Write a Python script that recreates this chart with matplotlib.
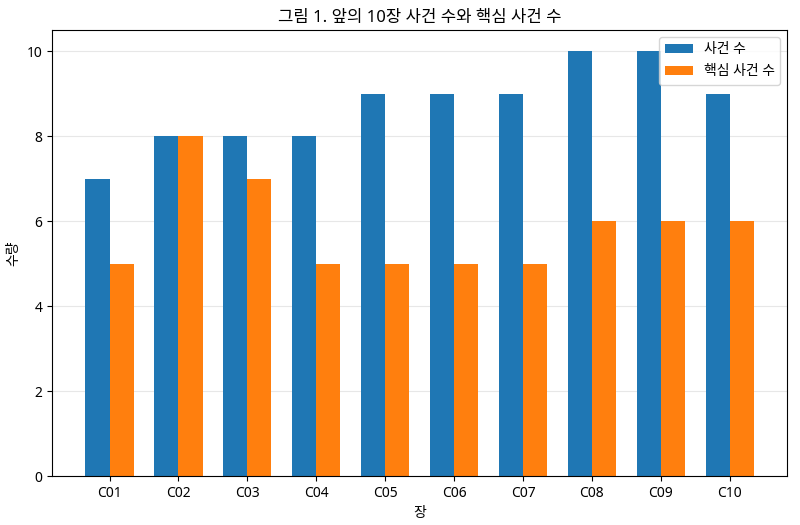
import numpy as np
import matplotlib.pyplot as plt

plt.rcParams['font.family'] = ['Noto Sans', 'Noto Sans CJK KR', 'DejaVu Sans']

# 데이터
chapters = ['C01', 'C02', 'C03', 'C04', 'C05', 'C06', 'C07', 'C08', 'C09', 'C10']
events = [7, 8, 8, 8, 9, 9, 9, 10, 10, 9]
core_events = [5, 8, 7, 5, 5, 5, 5, 6, 6, 6]

x = np.arange(len(chapters))
w = 0.35

fig, ax = plt.subplots(figsize=(8, 5.25), dpi=100)
ax.bar(x - w / 2, events, w, label='사건 수', color='#1f77b4')
ax.bar(x + w / 2, core_events, w, label='핵심 사건 수', color='#ff7f0e')
ax.set_xticks(x)
ax.set_xticklabels(chapters)
ax.set_title('그림 1. 앞의 10장 사건 수와 핵심 사건 수')
ax.set_xlabel('장')
ax.set_ylabel('수량')
ax.grid(axis='y', alpha=0.3)
ax.set_axisbelow(True)
ax.legend(loc='upper right')
fig.subplots_adjust(left=0.065, right=0.984, top=0.943, bottom=0.093)
fig.savefig('out.png')
